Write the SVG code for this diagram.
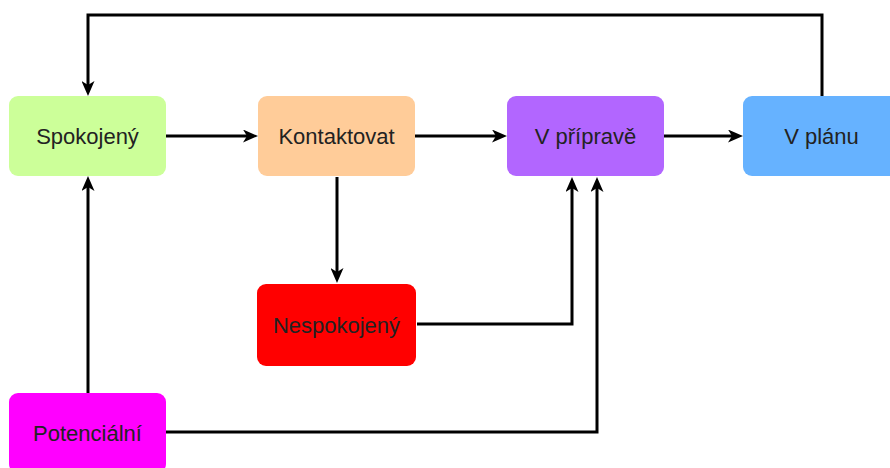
<svg xmlns="http://www.w3.org/2000/svg" width="890" height="468" viewBox="0 0 890 468">
<style>
.n rect{stroke:none}
.n text{font-family:"Liberation Sans",Arial,sans-serif;font-size:22px;fill:#222;text-anchor:middle;dominant-baseline:central}
.e path{fill:none;stroke:#000;stroke-width:3;marker-end:url(#arr)}
</style>
<defs>
<marker id="arr" markerUnits="userSpaceOnUse" viewBox="0 0 15 13" markerWidth="15" markerHeight="13" refX="6" refY="6.5" orient="auto">
<path d="M0,0 L15,6.5 L0,13 L4,6.5 Z" fill="#000"/>
</marker>
</defs>
<rect width="890" height="468" fill="#fff"/>
<g id="edges" class="e">
<path d="M166,136 H249"/>
<path d="M415,136 H498"/>
<path d="M663,136 H734"/>
<path d="M822,96 V15 H88 V87"/>
<path d="M337,177 V274"/>
<path d="M417,324 H572 V186"/>
<path d="M166,432 H597 V186"/>
<path d="M88,393 V185"/>
</g>
<g id="spokojeny" class="n"><rect x="9" y="96" width="157" height="80" rx="9" fill="#CCFF99"/><text x="87.5" y="136">Spokojený</text></g>
<g id="kontaktovat" class="n"><rect x="258" y="96" width="157" height="80" rx="9" fill="#FFCC99"/><text x="336.5" y="136">Kontaktovat</text></g>
<g id="vpriprave" class="n"><rect x="507" y="96" width="157" height="80" rx="9" fill="#B266FF"/><text x="585.5" y="136">V přípravě</text></g>
<g id="vplanu" class="n"><rect x="743" y="96" width="157" height="80" rx="9" fill="#66B2FF"/><text x="821.5" y="136">V plánu</text></g>
<g id="nespokojeny" class="n"><rect x="257" y="284" width="159" height="82" rx="9" fill="#FF0000"/><text x="336.5" y="325">Nespokojený</text></g>
<g id="potencialni" class="n"><rect x="9" y="393" width="157" height="80" rx="9" fill="#FF00FF"/><text x="87.5" y="433">Potenciální</text></g>
</svg>
